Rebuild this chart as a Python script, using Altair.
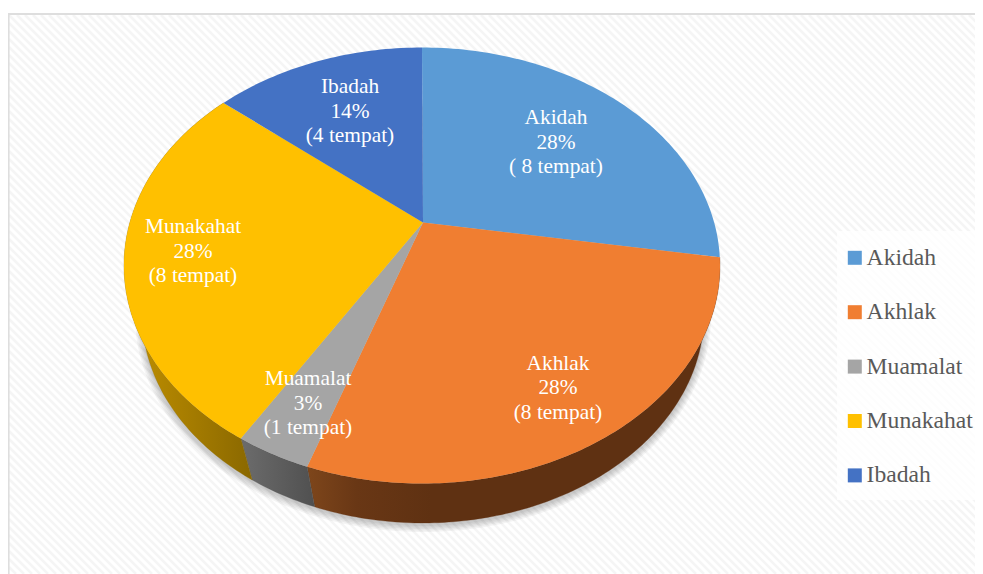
import math
import altair as alt

# ---- chart values ----
categories = ["Akidah", "Akhlak", "Muamalat", "Munakahat", "Ibadah"]
shares = [24.4, 31.9, 4.1, 28.0, 11.6]   # visible slice sweep
percent_text = ["28%", "28%", "3%", "28%", "14%"]
count_text = ["( 8 tempat)", "(8 tempat)", "(1 tempat)", "(8 tempat)", "(4 tempat)"]
colors = ["#5B9BD5", "#F07E31", "#A5A5A5", "#FFC000", "#4472C4"]

# ---- layout ----
APEX = (423, 222.5)
TOP = dict(cx=422, cy=265.5, rx=298, ry=218)
LOW = dict(cx=423, cy=314, rx=281, ry=209)
LABEL_POS = {"Akidah": (556, 118), "Akhlak": (558, 363.5), "Muamalat": (308, 379),
             "Munakahat": (193, 227), "Ibadah": (350, 87)}
LINE_GAP = 24.7
WALLS = {
    "Akhlak": [("#7E461B", 0), ("#693715", 0.12), ("#5F3112", 0.3), ("#5F3112", 1)],
    "Muamalat": [("#6C6C6C", 0), ("#505050", 1)],
    "Munakahat": [("#C29100", 0), ("#8A6800", 1)],
}


def pt(e, t, grow=0.0, dy=0.0):
    return [e["cx"] + (e["rx"] + grow) * math.sin(t), e["cy"] + dy - (e["ry"] + grow) * math.cos(t)]


def arc(e, t0, t1, **kw):
    n = max(2, int(abs(t1 - t0) / math.radians(1)) + 1)
    return [pt(e, t0 + (t1 - t0) * i / n, **kw) for i in range(n + 1)]


def feature(name, ring):
    return {"type": "Feature", "properties": {"name": name},
            "geometry": {"type": "Polygon", "coordinates": [ring + [ring[0]]]}}


total = sum(shares)
edges = [0.0]
for s in shares:
    edges.append(edges[-1] + s / total * 2 * math.pi)

PROJ = dict(type="identity", scale=1, translate=[-8, -8])

layers = []

# hatched backdrop
hatch = []
for c in range(-566, 983, 8):
    y0 = max(15, 9 - c)
    y1 = min(574, 983 - c)
    if y1 > y0:
        hatch.append([[c + y0, y0], [c + y1, y1]])
layers.append(
    alt.Chart(alt.Data(values=[{"type": "Feature", "properties": {},
                                "geometry": {"type": "MultiLineString", "coordinates": hatch}}]))
    .mark_geoshape(filled=False, stroke="#F5F5F5", strokeWidth=2.6).project(**PROJ)
)
# frame
layers.append(
    alt.Chart(alt.Data(values=[{"type": "Feature", "properties": {},
                                "geometry": {"type": "LineString",
                                             "coordinates": [[8.5, 574], [8.5, 14], [983, 14]]}}]))
    .mark_geoshape(filled=False, stroke="#DEDEDE", strokeWidth=2.2).project(**PROJ)
)
# legend panel
layers.append(
    alt.Chart(alt.Data(values=[feature("panel", [[837, 231], [983, 231], [983, 500], [837, 500]])]))
    .mark_geoshape(fill="white", fillOpacity=0.8).project(**PROJ)
)
# soft shadow
for g in [7, 5.5, 4, 2.5, 1]:
    ring = arc(LOW, 0, 2 * math.pi, grow=g, dy=2)
    layers.append(
        alt.Chart(alt.Data(values=[feature("shadow", ring)]))
        .mark_geoshape(fill="#000000", fillOpacity=0.045).project(**PROJ)
    )
# side walls
for i, name in enumerate(categories):
    if name not in WALLS:
        continue
    t0, t1 = edges[i], edges[i + 1]
    ring = arc(TOP, t0, t1) + arc(LOW, t1, t0)
    grad = alt.Gradient(gradient="linear", x1=0, x2=1, y1=0, y2=0,
                        stops=[alt.GradientStop(color=c, offset=o) for c, o in WALLS[name]])
    layers.append(
        alt.Chart(alt.Data(values=[feature(name, ring)]))
        .mark_geoshape(fill=grad, stroke=WALLS[name][-1][0], strokeWidth=0.3).project(**PROJ)
    )
# top faces
faces = [feature(n, [list(APEX)] + arc(TOP, edges[i], edges[i + 1])) for i, n in enumerate(categories)]
layers.append(
    alt.Chart(alt.Data(values=faces))
    .mark_geoshape(strokeWidth=0)
    .encode(color=alt.Color(
        "properties.name:N",
        scale=alt.Scale(domain=categories, range=colors),
        legend=alt.Legend(
            orient="none", legendX=835, legendY=238, title=None,
            symbolType="square", symbolSize=196, symbolStrokeWidth=0,
            labelFont="Liberation Serif", labelFontSize=23.6, labelColor="#595959",
            labelOffset=0, rowPadding=29.4, padding=0, labelLimit=200,
        ),
    ))
    .project(**PROJ)
)
# data labels
rows = []
for i, name in enumerate(categories):
    x, y = LABEL_POS[name]
    for j, line in enumerate([name, percent_text[i], count_text[i]]):
        rows.append({"lon": x, "lat": y + j * LINE_GAP, "line": line})
layers.append(
    alt.Chart(alt.Data(values=rows))
    .mark_text(font="Liberation Serif", fontSize=21.4, color="white", baseline="middle", align="center")
    .encode(longitude="lon:Q", latitude="lat:Q", text="line:N")
    .project(**PROJ)
)

chart = (
    alt.layer(*layers)
    .properties(width=967, height=566, padding=0, autosize=alt.AutoSizeParams(type="none"))
    .configure_view(stroke=None)
)
chart.save("out.html", embed_options={"renderer": "svg", "actions": False})
